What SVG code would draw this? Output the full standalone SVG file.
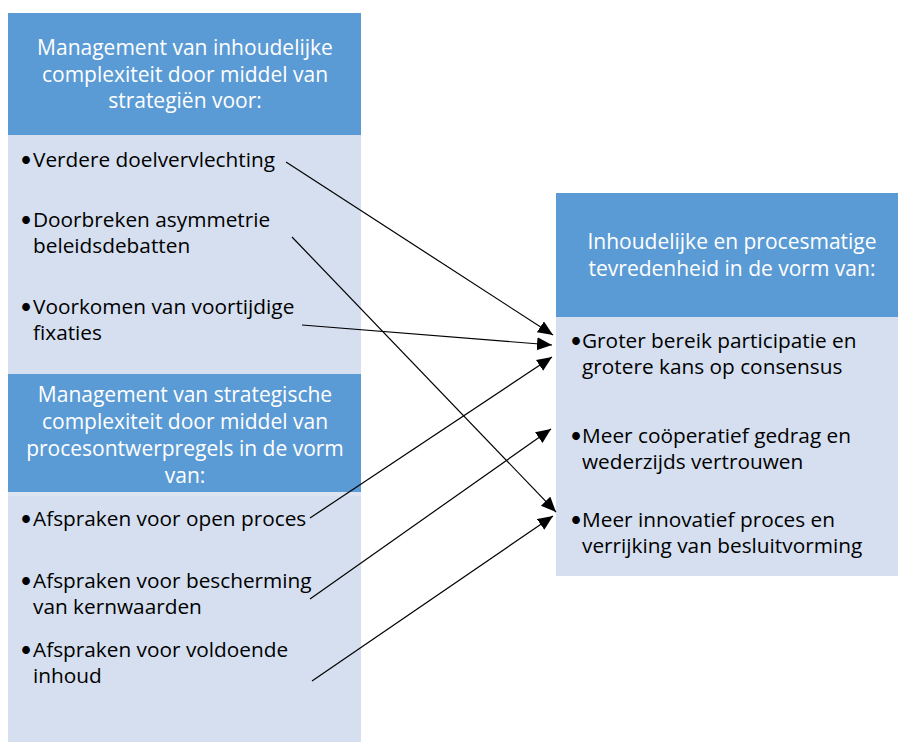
<svg xmlns="http://www.w3.org/2000/svg" width="898" height="742" viewBox="0 0 898 742">
  <style>
    .head { fill: #5B9BD5; }
    .body { fill: #D5DFEF; }
    .seam { fill: #DDE5F2; }
    .ht { font-family: "Open Sans", Lato, "Liberation Sans", sans-serif; font-size: 21px; fill: #FFFFFF; text-anchor: middle; }
    .bt { font-family: "Open Sans", Lato, "Liberation Sans", sans-serif; font-size: 20.8px; fill: #000000; }
    .dot { font-family: Lato, "Liberation Sans", sans-serif; }
    .link { stroke: #000000; stroke-width: 1.2; fill: none; marker-end: url(#tip); }
  </style>
  <defs>
    <marker id="tip" markerUnits="userSpaceOnUse" markerWidth="16" markerHeight="14" refX="15" refY="6.5" orient="auto">
      <path d="M0,0 L15,6.5 L0,13 Z" fill="#000000"/>
    </marker>
  </defs>
  <rect width="898" height="742" fill="#FFFFFF"/>

  <!-- Left column, upper block: content strategies -->
  <g id="content-strategies">
    <rect class="head" x="8" y="13" width="353" height="122"/>
    <rect class="body" x="8" y="135" width="353" height="239"/>
    <text class="ht" x="185" y="55">Management van inhoudelijke</text>
    <text class="ht" x="185" y="82">complexiteit door middel van</text>
    <text class="ht" x="185" y="108">strategiën voor:</text>
    <text class="bt" x="20" y="167"><tspan class="dot">•</tspan><tspan x="33">Verdere doelvervlechting</tspan></text>
    <text class="bt" x="20" y="227"><tspan class="dot">•</tspan><tspan x="33">Doorbreken asymmetrie</tspan></text>
    <text class="bt" x="33" y="253">beleidsdebatten</text>
    <text class="bt" x="20" y="314"><tspan class="dot">•</tspan><tspan x="33">Voorkomen van voortijdige</tspan></text>
    <text class="bt" x="33" y="340">fixaties</text>
  </g>

  <!-- Left column, lower block: process design rules -->
  <g id="process-rules">
    <rect class="head" x="8" y="374" width="353" height="118"/>
    <rect class="seam" x="8" y="492" width="353" height="4"/>
    <rect class="body" x="8" y="496" width="353" height="246"/>
    <text class="ht" x="185" y="402">Management van strategische</text>
    <text class="ht" x="185" y="429">complexiteit door middel van</text>
    <text class="ht" x="185" y="456">procesontwerpregels in de vorm</text>
    <text class="ht" x="185" y="483">van:</text>
    <text class="bt" x="20" y="526"><tspan class="dot">•</tspan><tspan x="33">Afspraken voor open proces</tspan></text>
    <text class="bt" x="20" y="588"><tspan class="dot">•</tspan><tspan x="33">Afspraken voor bescherming</tspan></text>
    <text class="bt" x="33" y="614">van kernwaarden</text>
    <text class="bt" x="20" y="657"><tspan class="dot">•</tspan><tspan x="33">Afspraken voor voldoende</tspan></text>
    <text class="bt" x="33" y="683">inhoud</text>
  </g>

  <!-- Right column: outcomes -->
  <g id="satisfaction">
    <rect class="head" x="556" y="193" width="342" height="124"/>
    <rect class="body" x="556" y="317" width="342" height="259"/>
    <text class="ht" x="732" y="249">Inhoudelijke en procesmatige</text>
    <text class="ht" x="732" y="276">tevredenheid in de vorm van:</text>
    <text class="bt" x="570" y="348"><tspan class="dot">•</tspan><tspan x="582">Groter bereik participatie en</tspan></text>
    <text class="bt" x="582" y="374">grotere kans op consensus</text>
    <text class="bt" x="570" y="443"><tspan class="dot">•</tspan><tspan x="582">Meer coöperatief gedrag en</tspan></text>
    <text class="bt" x="582" y="469">wederzijds vertrouwen</text>
    <text class="bt" x="570" y="527"><tspan class="dot">•</tspan><tspan x="582">Meer innovatief proces en</tspan></text>
    <text class="bt" x="582" y="553">verrijking van besluitvorming</text>
  </g>

  <!-- Connectors -->
  <g id="connectors">
    <line class="link" x1="286" y1="162" x2="553" y2="335"/>
    <line class="link" x1="292" y1="237" x2="556" y2="512"/>
    <line class="link" x1="302" y1="325" x2="552" y2="345"/>
    <line class="link" x1="310" y1="518" x2="552" y2="357"/>
    <line class="link" x1="310" y1="599" x2="551" y2="429"/>
    <line class="link" x1="312" y1="681" x2="553" y2="516"/>
  </g>
</svg>
